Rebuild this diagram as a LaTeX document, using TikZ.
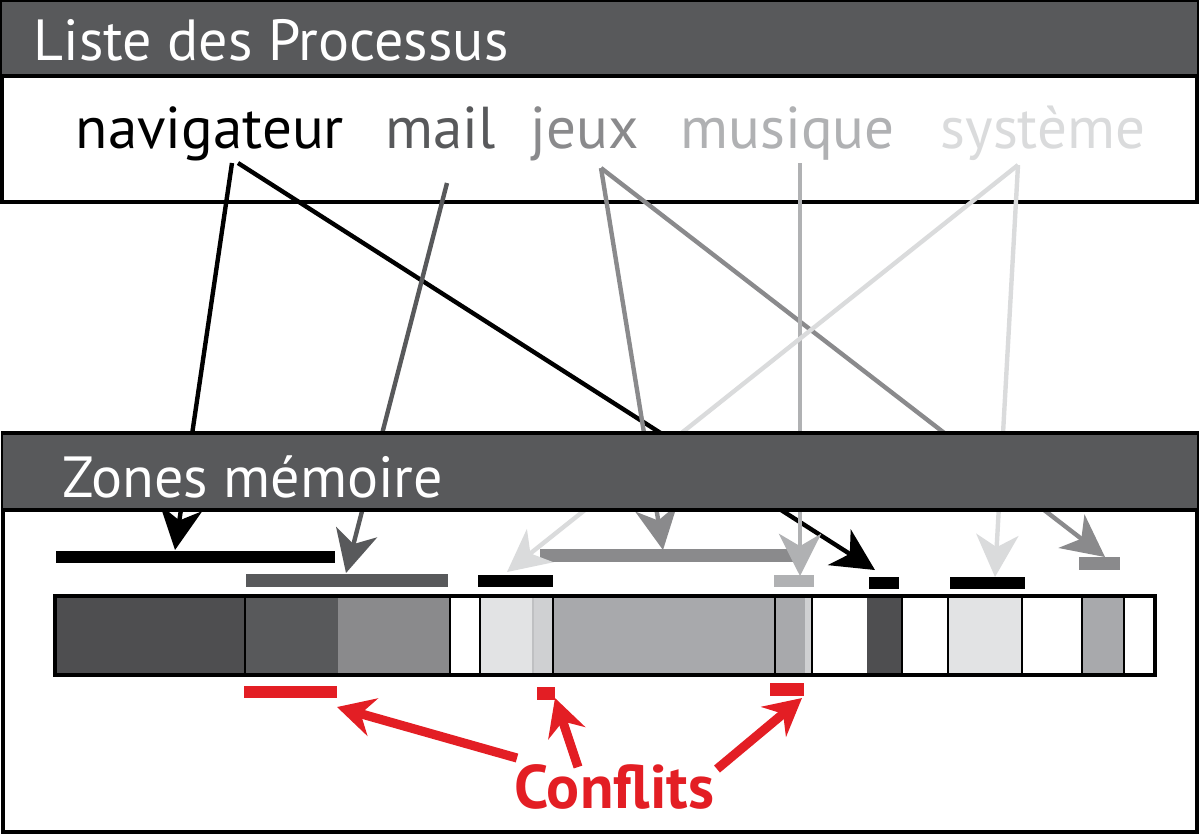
\documentclass[tikz,border=0pt]{standalone}
\usepackage{fontspec}
\setmainfont{PT Sans}
\usetikzlibrary{arrows.meta}

\definecolor{bandeau}{RGB}{88,89,91}
\definecolor{sombre}{RGB}{78,78,80}
\definecolor{gris}{RGB}{138,138,140}
\definecolor{clair}{RGB}{176,177,179}
\definecolor{pale}{RGB}{218,219,220}
\definecolor{moyen}{RGB}{168,169,172}
\definecolor{voile}{RGB}{207,208,210}
\definecolor{blanc}{RGB}{226,227,228}
\definecolor{rouge}{RGB}{227,30,36}

\tikzset{
  fleche/.style={line width=1.25pt, -{Stealth[length=12pt,width=12pt,inset=3.5pt]}},
  conflit/.style={rouge, line width=2.6pt, -{Stealth[length=10.5pt,width=11pt,inset=3.5pt]}},
  titre/.style={anchor=base west, text=white, inner sep=0pt, font=\fontsize{16.5}{18}\selectfont},
  proc/.style={anchor=base west, inner sep=0pt, font=\fontsize{16.8}{18}\selectfont},
}

\begin{document}
\begin{tikzpicture}[x=0.01cm, y=-0.01cm]
    \useasboundingbox (0,0) rectangle (1200,835);
    % Boxes
    \draw[line width=1pt, fill=white] (2,2) rectangle (1197,202);
    \fill[bandeau] (2,2) rectangle (1197,76);
    \draw[line width=1pt] (2,76) -- (1197,76);
    \draw[line width=1pt] (3,433) rectangle (1197,832);
    % Labels
    \node[titre] (liste) at (33,60) {Liste des Processus};
    \node[proc, text=black] (nav) at (75,148) {navigateur};
    \node[proc, text=bandeau] (mail) at (385,148) {mail};
    \node[proc, text=gris] (jeux) at (530,148) {jeux};
    \node[proc, text=clair] (musique) at (680,148) {musique};
    \node[proc, text=pale] (systeme) at (940,148) {système};
    % Memory bar
    \foreach \a/\b/\c in {55/245/sombre, 245/338/bandeau, 338/450/gris, 480/533/blanc,
        533/553/voile, 553/805/moyen, 805/812/voile, 867/902/sombre, 948/1022/blanc, 1082/1124/moyen}
      \fill[\c] (\a,596) rectangle (\b,675);
    \draw[voile!80!gray, line width=0.6pt] (533,596) -- (533,675);
    \foreach \x in {245,450,480,553,775,812,902,948,1022,1082,1124}
      \draw[line width=0.7pt] (\x,596) -- (\x,675);
    \draw[line width=1pt] (55,596) rectangle (1155,675);
    % Zones
    \fill[black] (56,551) rectangle (335,563);
    \fill[bandeau] (246,574) rectangle (448,587);
    \fill[black] (478,575) rectangle (553,587);
    \fill[gris] (540,549) rectangle (793,562);
    \fill[clair] (774,575) rectangle (814,587);
    \fill[black] (869,577) rectangle (899,589);
    \fill[black] (950,577) rectangle (1025,589);
    \fill[gris] (1079,557) rectangle (1120,570);
    % Points
    \coordinate (nav-a) at (232,163);
    \coordinate (nav-b) at (238,163);
    \coordinate (mail-a) at (447,183);
    \coordinate (jeux-a) at (601,168);
    \coordinate (musique-a) at (800,163);
    \coordinate (systeme-a) at (1018,165);
    \coordinate (z-nav) at (175,550);
    \coordinate (z-nav2) at (875,570);
    \coordinate (z-mail) at (346,573);
    \coordinate (z-jeux) at (663,550);
    \coordinate (z-jeux2) at (1105,557);
    \coordinate (z-musique) at (800,576);
    \coordinate (z-sys) at (507,572);
    \coordinate (z-sys2) at (995,577);
    % Drawing
    \draw[fleche, black] (nav-a) -- (z-nav);
    \draw[fleche, black] (nav-b) -- (z-nav2);
    \draw[fleche, bandeau] (mail-a) -- (z-mail);
    \draw[fleche, gris] (jeux-a) -- (z-jeux);
    \draw[fleche, gris] (jeux-a) -- (z-jeux2);
    \draw[fleche, clair] (musique-a) -- (z-musique);
    \draw[fleche, pale] (systeme-a) -- (z-sys);
    \draw[fleche, pale] (systeme-a) -- (z-sys2);
    % Second header, over the lines
    \fill[bandeau] (3,433) rectangle (1197,510);
    \draw[line width=1pt] (3,433) -- (1197,433);
    \draw[line width=1pt] (3,510) -- (1197,510);
    \node[titre] (zones) at (62,497) {Zones mémoire};
    % Conflicts
    \fill[rouge] (244,686) rectangle (337,698);
    \fill[rouge] (537,687) rectangle (555,700);
    \fill[rouge] (770,683) rectangle (804,696);
    \node[anchor=base west, inner sep=0pt, text=rouge, font=\bfseries\fontsize{17.5}{18}\selectfont] (conf) at (514,808) {Conflits};
    \coordinate (c-a) at (517,758);
    \coordinate (c-b) at (578,767);
    \coordinate (c-c) at (717,769);
    \coordinate (r-a) at (337,707);
    \coordinate (r-b) at (555,698);
    \coordinate (r-c) at (802,698);
    \draw[conflit] (c-a) -- (r-a);
    \draw[conflit] (c-b) -- (r-b);
    \draw[conflit] (c-c) -- (r-c);
\end{tikzpicture}
\end{document}
